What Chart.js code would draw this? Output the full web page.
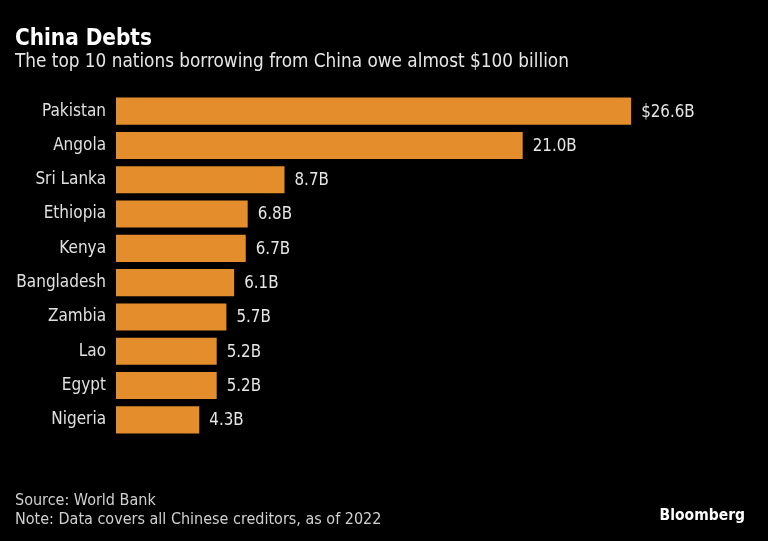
<!DOCTYPE html>
<html>
<head>
<meta charset="utf-8">
<script src="https://cdn.jsdelivr.net/npm/chart.js@4"></script>
<style>
html,body{margin:0;padding:0;background:#000;}
#wrap{width:768px;height:541px;position:relative;}
</style>
</head>
<body>
<div id="wrap"><canvas id="c" width="768" height="541"></canvas></div>
<script>
const countries = ["Pakistan","Angola","Sri Lanka","Ethiopia","Kenya","Bangladesh","Zambia","Lao","Egypt","Nigeria"];
const debts = [26.6, 21.0, 8.7, 6.8, 6.7, 6.1, 5.7, 5.2, 5.2, 4.3];
const titleText = "China Debts";
const subtitleText = "The top 10 nations borrowing from China owe almost $100 billion";
const sourceText = "Source: World Bank";
const noteText = "Note: Data covers all Chinese creditors, as of 2022";
const brandText = "Bloomberg";

const FONT = "'DejaVu Sans Condensed', 'DejaVu Sans', sans-serif";

const textPlugin = {
  id: 'texts',
  afterDraw(chart) {
    const ctx = chart.ctx;
    ctx.save();
    ctx.textBaseline = 'alphabetic';
    ctx.textAlign = 'left';
    ctx.fillStyle = '#ffffff';
    ctx.font = "bold 22.3px " + FONT;
    ctx.fillText(titleText, 15, 45);
    ctx.fillStyle = '#e6e6e6';
    ctx.font = "18.8px " + FONT;
    ctx.fillText(subtitleText, 15, 67);
    ctx.fillStyle = '#d0d0d0';
    ctx.font = "16px " + FONT;
    ctx.fillText(sourceText, 15, 505);
    ctx.fillText(noteText, 15, 524);
    ctx.fillStyle = '#ffffff';
    ctx.font = "bold 15.5px " + FONT;
    ctx.textAlign = 'right';
    ctx.fillText(brandText, 745, 520);
    // value labels
    const meta = chart.getDatasetMeta(0);
    ctx.textAlign = 'left';
    ctx.textBaseline = 'middle';
    ctx.fillStyle = '#e6e6e6';
    ctx.font = "16.8px " + FONT;
    meta.data.forEach((bar, i) => {
      const v = debts[i].toFixed(1) + "B";
      const label = i === 0 ? "$" + v : v;
      ctx.fillText(label, bar.x + 10, bar.y + 1);
    });
    ctx.restore();
  }
};

new Chart(document.getElementById('c'), {
  type: 'bar',
  data: {
    labels: countries,
    datasets: [{
      data: debts,
      backgroundColor: '#E38D2C',
      borderWidth: 0,
      barPercentage: 0.79,
      categoryPercentage: 1.0
    }]
  },
  options: {
    indexAxis: 'y',
    responsive: false,
    animation: false,
    devicePixelRatio: 1,
    layout: { padding: { top: 94, bottom: 104, left: 0, right: 71 } },
    plugins: { legend: { display: false }, tooltip: { enabled: false } },
    scales: {
      x: { display: false, min: 0, max: 30 },
      y: {
        grid: { display: false, drawBorder: false },
        border: { display: false },
        ticks: { color: '#e0e0e0', font: { family: FONT, size: 17 }, padding: 2 },
        afterFit(scale) { scale.width = 116; }
      }
    }
  },
  plugins: [textPlugin]
});
</script>
</body>
</html>
